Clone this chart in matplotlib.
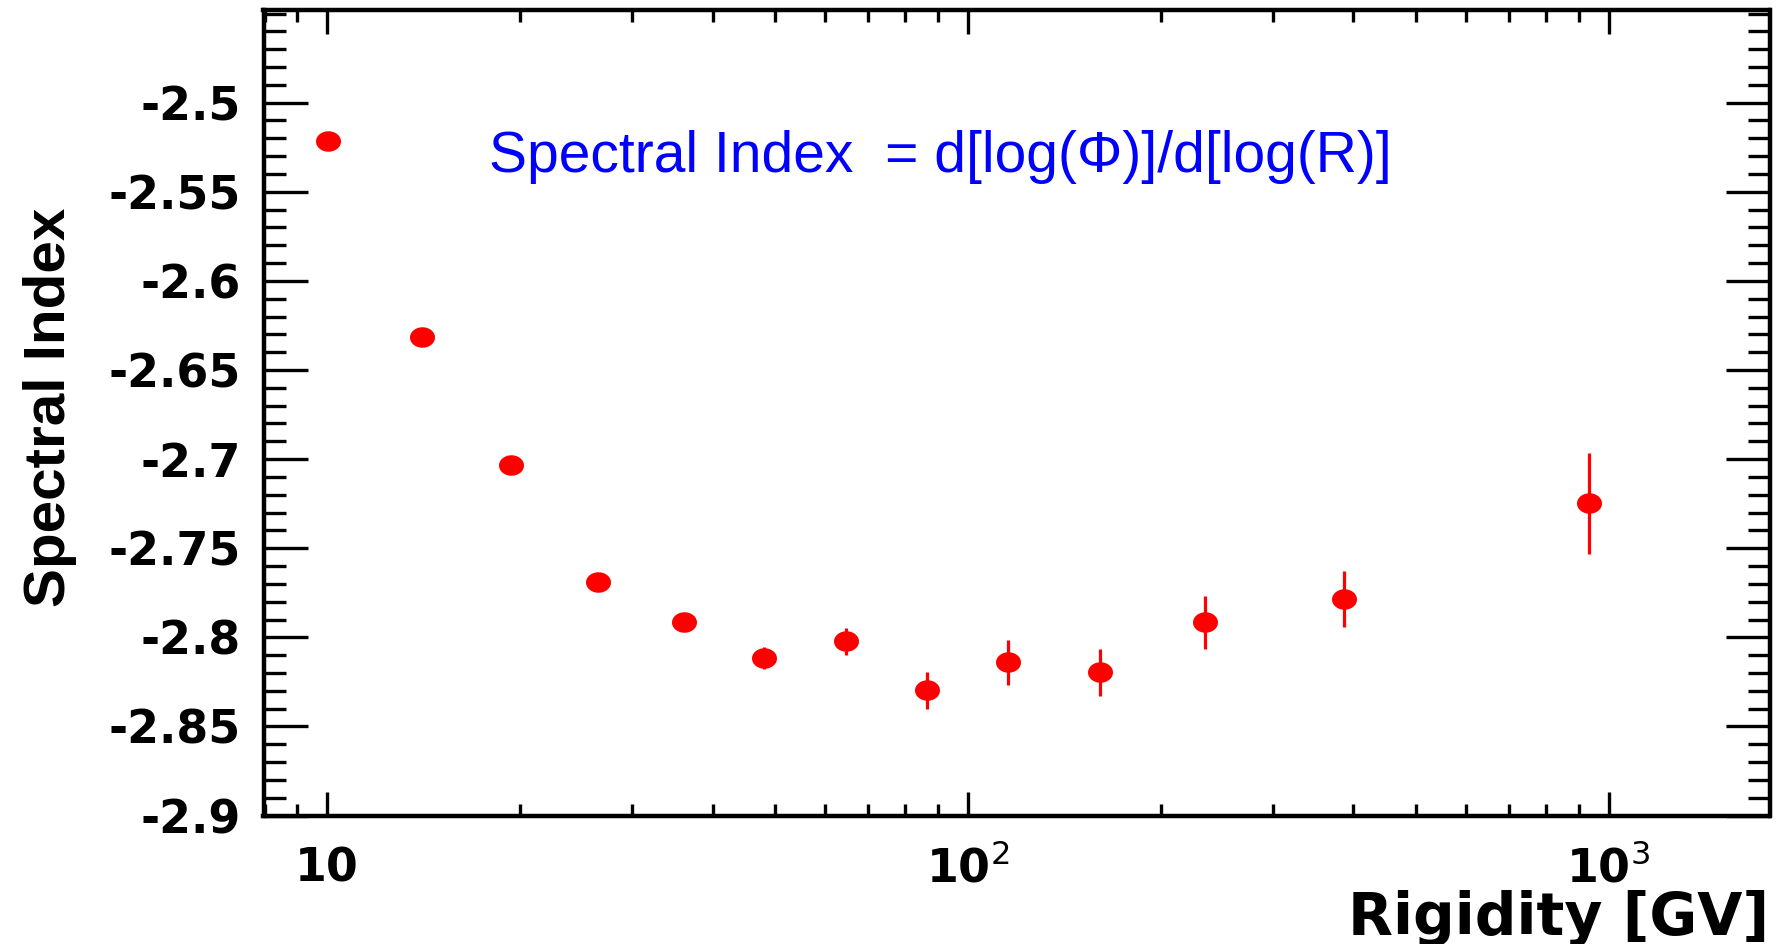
import numpy as np
import matplotlib
matplotlib.use("Agg")
import matplotlib.pyplot as plt
from matplotlib.path import Path
from matplotlib.ticker import FixedLocator, LogLocator, NullFormatter

# ---------------- data ----------------
rigidity = [10.05, 14.06, 19.36, 26.5, 36.1, 48.2, 64.6, 86.3, 115.8, 160.7, 235.0, 386.0, 931.0]
spectral_index = [-2.5215, -2.6315, -2.7034, -2.769, -2.7916, -2.8118, -2.8022,
                  -2.8298, -2.814, -2.8197, -2.7916, -2.7787, -2.7247]
index_err = [0.002, 0.003, 0.003, 0.004, 0.005, 0.0062, 0.0075,
             0.0103, 0.0125, 0.0132, 0.015, 0.0157, 0.0283]

y_ticks = [-2.9, -2.85, -2.8, -2.75, -2.7, -2.65, -2.6, -2.55, -2.5]
y_ticklabels = ["-2.9", "-2.85", "-2.8", "-2.75", "-2.7", "-2.65", "-2.6", "-2.55", "-2.5"]
x_ticks = [10, 100, 1000]
x_ticklabels = ["10", r"$\mathbf{10}^{\mathrm{2}}$", r"$\mathbf{10}^{\mathrm{3}}$"]

# ---------------- style ----------------
plt.rcParams["font.family"] = ["DejaVu Sans"]
plt.rcParams["mathtext.fontset"] = "dejavusans"

W, H, DPI = 1786, 944, 100
fig = plt.figure(figsize=(W / DPI, H / DPI), dpi=DPI)
fig.patch.set_facecolor("white")

left_px, right_px, top_px, bottom_px = 263.5, 1769.5, 10.3, 815.6
ax = fig.add_axes([left_px / W, 1 - bottom_px / H,
                   (right_px - left_px) / W, (bottom_px - top_px) / H])

# elliptical marker (ROOT-like stretched circle)
t = np.linspace(0, 2 * np.pi, 80)
ell = Path(np.column_stack([np.cos(t), 0.82 * np.sin(t)]), closed=True)

ax.errorbar(rigidity, spectral_index, yerr=index_err, fmt="none",
            ecolor="#ff0000", elinewidth=2.3, capsize=0, zorder=3)
ax.plot(rigidity, spectral_index, ls="none", marker=ell, ms=18,
        mfc="#ff0000", mec="#ff0000", mew=0, zorder=4)

ax.set_xscale("log")
ax.set_xlim(7.97, 1783)
ax.set_ylim(-2.9, -2.4482)

for sp in ax.spines.values():
    sp.set_linewidth(3.2)
    sp.set_color("black")

# y ticks
ax.yaxis.set_major_locator(FixedLocator(y_ticks))
ax.yaxis.set_minor_locator(FixedLocator(list(np.round(np.arange(-2.9, -2.445, 0.01), 3))))
ax.set_yticklabels(y_ticklabels)
# x ticks
ax.xaxis.set_major_locator(FixedLocator(x_ticks))
ax.xaxis.set_minor_locator(LogLocator(base=10, subs=np.arange(2, 10)))
ax.xaxis.set_minor_formatter(NullFormatter())
ax.set_xticklabels(x_ticklabels)

ax.tick_params(axis="both", which="both", direction="in", top=True, right=True,
               color="black")
ax.tick_params(axis="y", which="major", length=32, width=2.4, pad=16.2,
               labelsize=33)
ax.tick_params(axis="y", which="minor", length=15.5, width=2.4)
ax.tick_params(axis="x", which="major", length=17, width=2.4, pad=47.5,
               labelsize=33)
ax.tick_params(axis="x", which="minor", length=8.5, width=2.4)

for lab in ax.get_yticklabels():
    lab.set_fontweight("bold")
for lab in ax.get_xticklabels():
    lab.set_fontweight("bold")
    lab.set_verticalalignment("baseline")

# axis titles
fig.text(50.5 / W, 1 - 407 / H, "Spectral Index", rotation=90, ha="center",
         va="center", fontsize=42, fontweight="bold", family="Liberation Sans")
fig.text(1769 / W, 1 - 935 / H, "Rigidity [GV]", ha="right", va="baseline",
         fontsize=42, fontweight="bold")

# annotation
fig.text(489 / W, 1 - 172 / H, "Spectral Index  = d[log(\u03a6)]/d[log(R)]",
         ha="left", va="baseline", fontsize=41, color="#0000ff",
         family="Liberation Sans")

fig.savefig("out.png", dpi=DPI, facecolor="white")
